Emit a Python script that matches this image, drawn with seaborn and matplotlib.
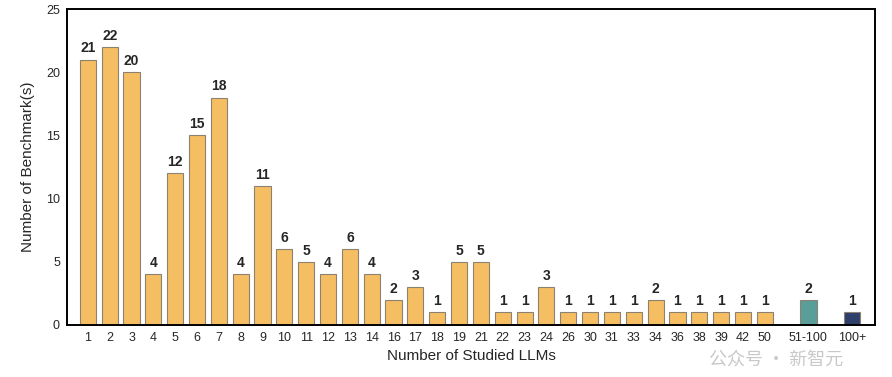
import pandas as pd
import matplotlib
matplotlib.use("Agg")
import matplotlib.pyplot as plt
import seaborn as sns

# --- Data ---
llm_counts = ['1', '2', '3', '4', '5', '6', '7', '8', '9', '10', '11', '12', '13', '14',
              '16', '17', '18', '19', '21', '22', '23', '24', '26', '30', '31', '33',
              '34', '36', '38', '39', '42', '50', '51-100', '100+']
benchmarks = [21, 22, 20, 4, 12, 15, 18, 4, 11, 6, 5, 4, 6, 4,
              2, 3, 1, 5, 5, 1, 1, 3, 1, 1, 1, 1,
              2, 1, 1, 1, 1, 1, 2, 1]

# empty slots before the two grouped bins
order = llm_counts[:32] + [' '] + ['51-100'] + ['  '] + ['100+']

ORANGE = '#F5BE62'
palette = {c: ORANGE for c in llm_counts}
palette['51-100'] = '#5A9E9A'
palette['100+'] = '#2E3F6B'

df = pd.DataFrame({'LLMs': llm_counts, 'Count': benchmarks})

sns.set_theme(style="white")
plt.rcParams['font.family'] = ['Liberation Sans', 'DejaVu Sans']

fig, ax = plt.subplots(figsize=(8.92, 3.77), dpi=100)
fig.subplots_adjust(left=0.075, right=0.981, bottom=0.138, top=0.976)

sns.barplot(data=df, x='LLMs', y='Count', hue='LLMs', order=order,
            hue_order=llm_counts, palette=palette, legend=False, dodge=False,
            saturation=1, width=0.74, edgecolor='#8C8272', linewidth=0.8, ax=ax)

for cont in ax.containers:
    ax.bar_label(cont, fmt='%d', padding=3, fontsize=10, fontweight='bold')

ax.set_ylim(0, 25)
ax.set_yticks([0, 5, 10, 15, 20, 25])
ax.set_xlim(-0.96, 36.05)
ax.set_xlabel('Number of Studied LLMs', fontsize=11, labelpad=4)
ax.set_ylabel('Number of Benchmark(s)', fontsize=11, labelpad=8)
ax.tick_params(axis='both', labelsize=9, length=0, pad=5)

for s in ax.spines.values():
    s.set_color('black')
    s.set_linewidth(1.4)

# watermark
fig.text(0.87, 0.045, '公众号 · 新智元', fontsize=13, color='#BBBBBB', alpha=0.8,
         ha='center', va='center', family=['Noto Sans CJK SC', 'DejaVu Sans'])

fig.savefig('out.png', dpi=100)
